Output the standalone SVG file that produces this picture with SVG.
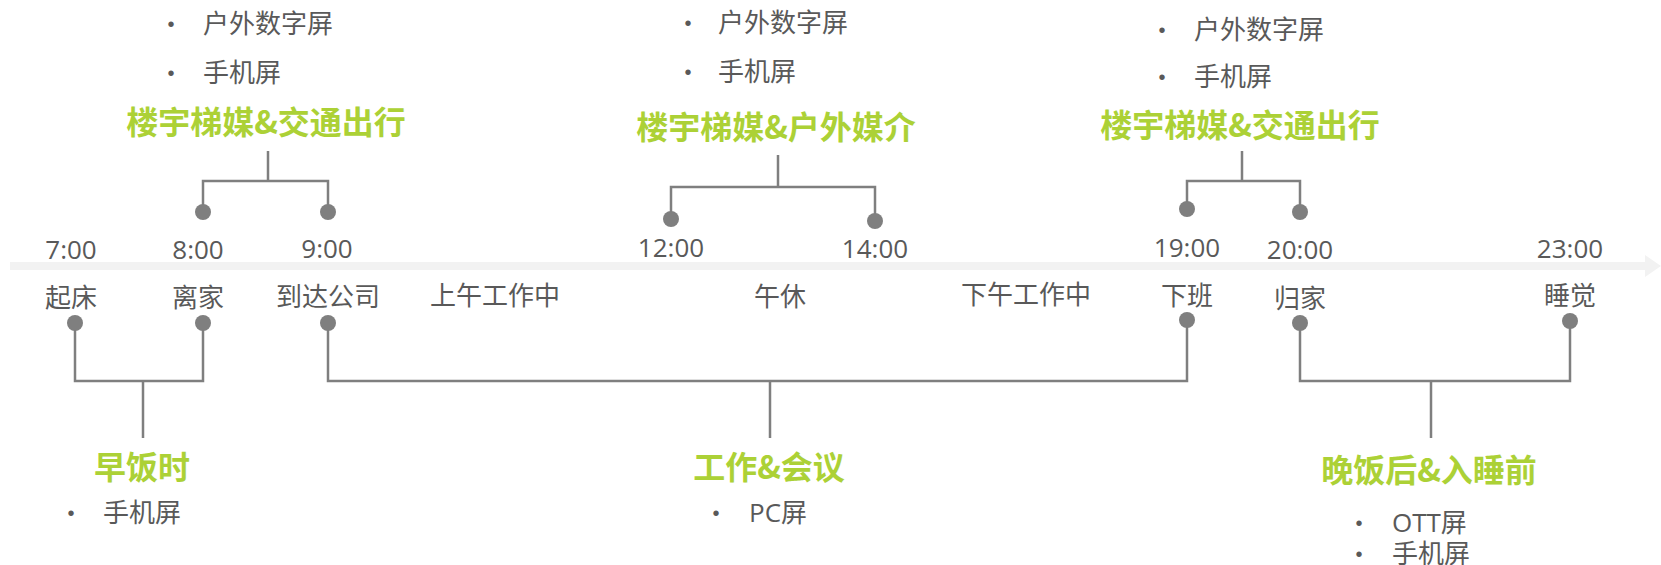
<svg xmlns="http://www.w3.org/2000/svg" width="1661" height="565" viewBox="0 0 1661 565">
<style>
.t{font-family:"Open Sans","Noto Sans CJK SC",sans-serif;font-size:26px;fill:#595959}
.c{text-anchor:middle}
.h{font-family:"Noto Sans CJK SC",sans-serif;font-size:32px;font-weight:bold;fill:#acd136;text-anchor:middle}
.b{font-family:"Liberation Sans",sans-serif;font-size:20px;fill:#595959;text-anchor:middle}
.ln{fill:none;stroke:#7f7f7f;stroke-width:2.5}
.dot{fill:#7f7f7f}
</style>
<rect width="1661" height="565" fill="#ffffff"/>
<g id="timeline">
<rect x="10" y="262" width="1637" height="8" fill="#f2f2f2"/>
<polygon points="1645,255 1661,266 1645,277" fill="#f2f2f2"/>
</g>
<g id="connectors">
<path class="ln" d="M203,212 V181 H328 V212 M268,181 V151"/>
<path class="ln" d="M671,219 V187 H875 V221 M778,187 V155"/>
<path class="ln" d="M1187,209 V181 H1300 V212 M1242,181 V151"/>
<path class="ln" d="M75,323 V381 H203 V323 M143,381 V438"/>
<path class="ln" d="M328,323 V381 H1187 V320 M770,381 V438"/>
<path class="ln" d="M1300,323 V381 H1570 V321 M1431,381 V438"/>
</g>
<g id="dots">
<circle class="dot" cx="203" cy="212" r="8"/><circle class="dot" cx="328" cy="212" r="8"/>
<circle class="dot" cx="671" cy="219" r="8"/><circle class="dot" cx="875" cy="221" r="8"/>
<circle class="dot" cx="1187" cy="209" r="8"/><circle class="dot" cx="1300" cy="212" r="8"/>
<circle class="dot" cx="75" cy="323" r="8"/><circle class="dot" cx="203" cy="323" r="8"/>
<circle class="dot" cx="328" cy="323" r="8"/><circle class="dot" cx="1187" cy="320" r="8"/>
<circle class="dot" cx="1300" cy="323" r="8"/><circle class="dot" cx="1570" cy="321" r="8"/>
</g>
<g id="times">
<text class="t c" x="71" y="259">7:00</text>
<text class="t c" x="198" y="259">8:00</text>
<text class="t c" x="327" y="258">9:00</text>
<text class="t c" x="671" y="257">12:00</text>
<text class="t c" x="875" y="258">14:00</text>
<text class="t c" x="1187" y="257">19:00</text>
<text class="t c" x="1300" y="259">20:00</text>
<text class="t c" x="1570" y="258">23:00</text>
</g>
<g id="events">
<text class="t c" x="71" y="307">起床</text>
<text class="t c" x="198" y="307">离家</text>
<text class="t c" x="328" y="306">到达公司</text>
<text class="t c" x="495" y="305">上午工作中</text>
<text class="t c" x="780" y="306">午休</text>
<text class="t c" x="1026" y="304">下午工作中</text>
<text class="t c" x="1187" y="305">下班</text>
<text class="t c" x="1300" y="308">归家</text>
<text class="t c" x="1570" y="305">睡觉</text>
</g>
<g id="group-commute-am">
<text class="h" x="266" y="134">楼宇梯媒&amp;交通出行</text>
<text class="b" x="171" y="31">•</text><text class="t" x="203" y="33">户外数字屏</text>
<text class="b" x="171" y="80">•</text><text class="t" x="203" y="82">手机屏</text>
</g>
<g id="group-noon">
<text class="h" x="776" y="139">楼宇梯媒&amp;户外媒介</text>
<text class="b" x="688" y="30">•</text><text class="t" x="718" y="32">户外数字屏</text>
<text class="b" x="688" y="79">•</text><text class="t" x="718" y="81">手机屏</text>
</g>
<g id="group-commute-pm">
<text class="h" x="1240" y="137">楼宇梯媒&amp;交通出行</text>
<text class="b" x="1162" y="37">•</text><text class="t" x="1194" y="39">户外数字屏</text>
<text class="b" x="1162" y="84">•</text><text class="t" x="1194" y="86">手机屏</text>
</g>
<g id="group-breakfast">
<text class="h" x="142" y="479">早饭时</text>
<text class="b" x="71" y="520">•</text><text class="t" x="103" y="522">手机屏</text>
</g>
<g id="group-work">
<text class="h" x="769" y="479">工作&amp;会议</text>
<text class="b" x="716" y="520">•</text><text class="t" x="749" y="522">PC屏</text>
</g>
<g id="group-evening">
<text class="h" x="1429" y="482">晚饭后&amp;入睡前</text>
<text class="b" x="1359" y="530">•</text><text class="t" x="1392" y="532">OTT屏</text>
<text class="b" x="1359" y="561">•</text><text class="t" x="1392" y="563">手机屏</text>
</g>
</svg>
